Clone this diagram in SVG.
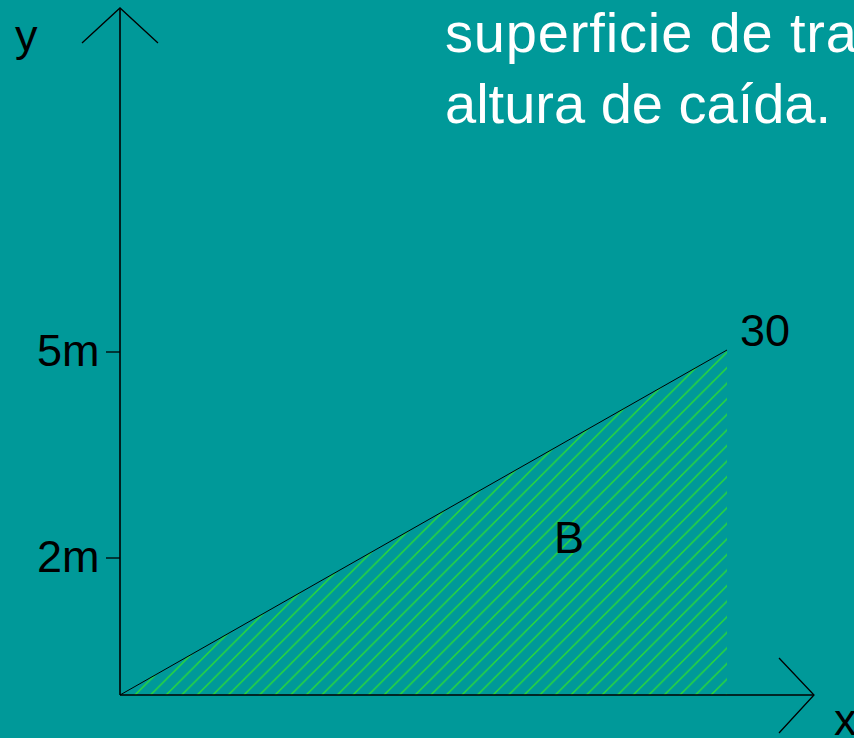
<svg xmlns="http://www.w3.org/2000/svg" width="854" height="738" viewBox="0 0 854 738">
<style>
.lbl{font-family:"Liberation Sans",Arial,sans-serif;font-size:45px;fill:#000}
.title{font-family:"Liberation Sans",Arial,sans-serif;font-size:56px;fill:#fff}
.ax{stroke:#000;stroke-width:1.6;fill:none}
.hd{stroke:#000;stroke-width:1.3;fill:none}
</style>
<defs>
<pattern id="hatch" patternUnits="userSpaceOnUse" x="135" y="695" width="15.57" height="15.57">
<path d="M0,15.57 L15.57,0 M-2,2 L2,-2 M13.57,17.57 L17.57,13.57" stroke="#2ee02e" stroke-width="1.3"/>
</pattern>
</defs>
<rect width="854" height="738" fill="#009999"/>
<text class="title" x="445" y="52" textLength="412" lengthAdjust="spacing">superficie de tra</text>
<text class="title" x="445" y="123">altura de caída.</text>
<g id="region-B">
<polygon points="120,695 727,350 727,695" fill="url(#hatch)"/>
<line x1="120" y1="695" x2="727" y2="350" stroke="#000" stroke-width="1"/>
<text class="lbl" x="554" y="553">B</text>
</g>
<g id="connectors">
<line class="ax" x1="120" y1="695" x2="120" y2="8"/>
<polyline class="hd" points="82,43 120,8 158,43"/>
<line class="ax" x1="120" y1="695" x2="814" y2="695"/>
<polyline class="hd" points="779,658 814,695 779,733"/>
<line class="hd" x1="106" y1="352" x2="120" y2="352"/>
<line class="hd" x1="106" y1="558" x2="120" y2="558"/>
</g>
<g id="labels">
<text class="lbl" x="15" y="51">y</text>
<text class="lbl" x="37" y="366">5m</text>
<text class="lbl" x="37" y="572">2m</text>
<text class="lbl" x="740" y="346">30</text>
<text class="lbl" x="834" y="735">x</text>
</g>
</svg>
